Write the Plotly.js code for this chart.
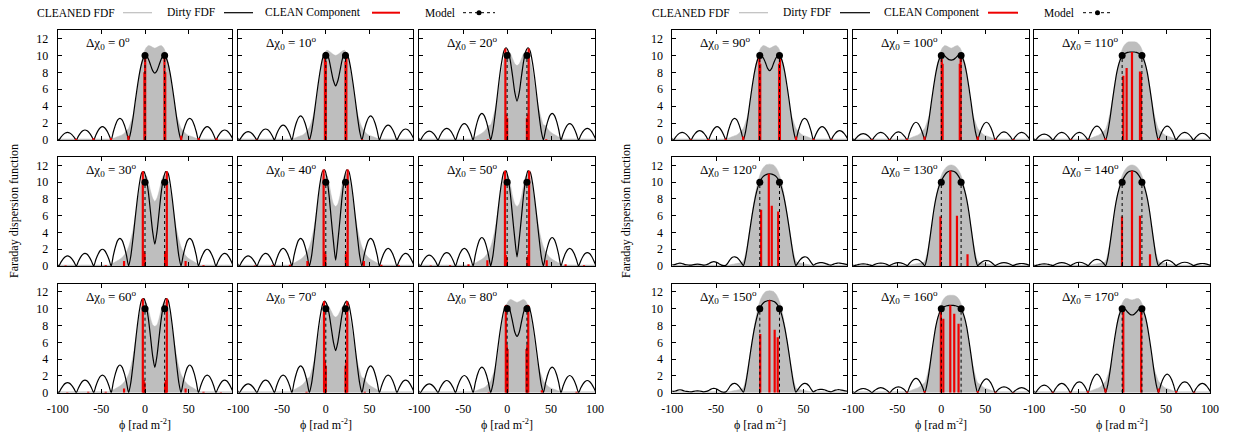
<!DOCTYPE html>
<html><head><meta charset="utf-8">
<script src="https://cdn.plot.ly/plotly-3.0.1.min.js"></script>
<style>body{margin:0;background:#fff}#chart{width:1238px;height:438px}</style>
</head><body><div id="chart"></div>
<script>
// Faraday depth grid (rad m^-2)
const phi = [-101.25,-98.75,-96.25,-93.75,-91.25,-88.75,-86.25,-83.75,-81.25,-78.75,-76.25,-73.75,-71.25,-68.75,-66.25,-63.75,-61.25,-58.75,-56.25,-53.75,-51.25,-48.75,-46.25,-43.75,-41.25,-38.75,-36.25,-33.75,-31.25,-28.75,-26.25,-23.75,-21.25,-18.75,-16.25,-13.75,-11.25,-8.75,-6.25,-3.75,-1.25,1.25,3.75,6.25,8.75,11.25,13.75,16.25,18.75,21.25,23.75,26.25,28.75,31.25,33.75,36.25,38.75,41.25,43.75,46.25,48.75,51.25,53.75,56.25,58.75,61.25,63.75,66.25,68.75,71.25,73.75,76.25,78.75,81.25,83.75,86.25,88.75,91.25,93.75,96.25,98.75,101.25];

const angles = [0,10,20,30,40,50,60,70,80,90,100,110,120,130,140,150,160,170];

// Dirty FDF
const dirty0 = [0.3,0, 0.34,0.64,0.83,0.9,0.83,0.64,0.34,0, 0.45,0.83,1.09,1.18,1.09,0.83,0.45,0, 0.60,1.11,1.45,1.57,1.45,1.11,0.60,0, 0.98,1.81,2.37,2.56,2.37,1.81,0.98,0, 1.0,2.6,4.5,6.3,7.9,9.1,9.8,10.0,9.6,8.9,8.2,7.9, 8.2,8.9,9.6,10.0,9.8,9.1,7.9,6.3,4.5,2.6,1.0,0, 0.98,1.81,2.37,2.56,2.37,1.81,0.98,0, 0.60,1.11,1.45,1.57,1.45,1.11,0.60,0, 0.45,0.83,1.09,1.18,1.09,0.83,0.45,0];
const dirty10 = [0.3,0, 0.38,0.71,0.92,1.0,0.92,0.71,0.38,0, 0.50,0.92,1.20,1.3,1.20,0.92,0.50,0, 0.67,1.24,1.62,1.75,1.62,1.24,0.67,0, 1.09,2.01,2.63,2.85,2.63,2.01,1.09,0, 1.0,2.7,4.7,6.6,8.3,9.6,10.3,10.3,9.5,8.2,7.0,6.4, 7.0,8.2,9.5,10.3,10.3,9.6,8.3,6.6,4.7,2.7,1.0,0, 1.09,2.01,2.63,2.85,2.63,2.01,1.09,0, 0.67,1.24,1.62,1.75,1.62,1.24,0.67,0, 0.50,0.92,1.20,1.3,1.20,0.92,0.50,0];
const dirty20 = [0.3,0, 0.41,0.75,0.98,1.06,0.98,0.75,0.41,0, 0.53,0.98,1.28,1.38,1.28,0.98,0.53,0, 0.74,1.36,1.78,1.93,1.78,1.36,0.74,0, 1.21,2.23,2.91,3.15,2.91,2.23,1.21,0, 1.1,3.0,5.2,7.4,9.2,10.5,10.9,10.5,9.3,7.5,5.6,4.6, 5.6,7.5,9.3,10.5,10.9,10.5,9.2,7.4,5.2,3.0,1.1,0, 1.21,2.23,2.91,3.15,2.91,2.23,1.21,0, 0.74,1.36,1.78,1.93,1.78,1.36,0.74,0, 0.53,0.98,1.28,1.38,1.28,0.98,0.53,0];
const dirty30 = [0.35,0, 0.46,0.85,1.11,1.2,1.11,0.85,0.46,0, 0.57,1.06,1.39,1.5,1.39,1.06,0.57,0, 0.77,1.41,1.85,2.0,1.85,1.41,0.77,0, 1.26,2.33,3.05,3.3,3.05,2.33,1.26,0, 1.2,3.3,5.7,8.0,9.9,11.1,11.25,10.5,8.9,6.5,4.1,2.6, 4.1,6.5,8.9,10.5,11.25,11.1,9.9,8.0,5.7,3.3,1.2,0, 1.26,2.33,3.05,3.3,3.05,2.33,1.26,0, 0.77,1.41,1.85,2.0,1.85,1.41,0.77,0, 0.57,1.06,1.39,1.5,1.39,1.06,0.57,0];
const dirty40 = [0.35,0, 0.46,0.85,1.11,1.2,1.11,0.85,0.46,0, 0.57,1.06,1.39,1.5,1.39,1.06,0.57,0, 0.80,1.48,1.94,2.1,1.94,1.48,0.80,0, 1.26,2.33,3.05,3.3,3.05,2.33,1.26,0, 1.2,3.4,5.8,8.2,10.1,11.3,11.45,10.5,8.4,5.6,2.9,0.7, 2.9,5.6,8.4,10.5,11.45,11.3,10.1,8.2,5.8,3.4,1.2,0, 1.26,2.33,3.05,3.3,3.05,2.33,1.26,0, 0.80,1.48,1.94,2.1,1.94,1.48,0.80,0, 0.57,1.06,1.39,1.5,1.39,1.06,0.57,0];
const dirty50 = [0.35,0, 0.50,0.92,1.20,1.3,1.20,0.92,0.50,0, 0.61,1.13,1.48,1.6,1.48,1.13,0.61,0, 0.80,1.48,1.94,2.1,1.94,1.48,0.80,0, 1.30,2.40,3.14,3.4,3.14,2.40,1.30,0, 1.2,3.4,5.8,8.1,10.0,11.2,11.35,10.4,8.5,5.8,3.2,1.1, 3.2,5.8,8.5,10.4,11.35,11.2,10.0,8.1,5.8,3.4,1.2,0, 1.30,2.40,3.14,3.4,3.14,2.40,1.30,0, 0.80,1.48,1.94,2.1,1.94,1.48,0.80,0, 0.61,1.13,1.48,1.6,1.48,1.13,0.61,0];
const dirty60 = [0.35,0, 0.46,0.85,1.11,1.2,1.11,0.85,0.46,0, 0.57,1.06,1.39,1.5,1.39,1.06,0.57,0, 0.80,1.48,1.94,2.1,1.94,1.48,0.80,0, 1.26,2.33,3.05,3.3,3.05,2.33,1.26,0, 1.2,3.3,5.7,8.0,9.9,11.05,11.2,10.5,8.9,6.7,4.4,3.0, 4.4,6.7,8.9,10.5,11.2,11.05,9.9,8.0,5.7,3.3,1.2,0, 1.26,2.33,3.05,3.3,3.05,2.33,1.26,0, 0.80,1.48,1.94,2.1,1.94,1.48,0.80,0, 0.57,1.06,1.39,1.5,1.39,1.06,0.57,0];
const dirty70 = [0.3,0, 0.40,0.74,0.96,1.04,0.96,0.74,0.40,0, 0.57,1.06,1.39,1.5,1.39,1.06,0.57,0, 0.80,1.48,1.94,2.1,1.94,1.48,0.80,0, 1.23,2.26,2.96,3.2,2.96,2.26,1.23,0, 1.1,3.0,5.2,7.4,9.2,10.5,10.9,10.5,9.4,7.7,6.0,5.0, 6.0,7.7,9.4,10.5,10.9,10.5,9.2,7.4,5.2,3.0,1.1,0, 1.23,2.26,2.96,3.2,2.96,2.26,1.23,0, 0.80,1.48,1.94,2.1,1.94,1.48,0.80,0, 0.57,1.06,1.39,1.5,1.39,1.06,0.57,0];
const dirty80 = [0.3,0, 0.40,0.74,0.96,1.04,0.96,0.74,0.40,0, 0.56,1.03,1.34,1.45,1.34,1.03,0.56,0, 0.79,1.45,1.89,2.05,1.89,1.45,0.79,0, 1.17,2.16,2.82,3.05,2.82,2.16,1.17,0, 1.0,2.8,4.8,6.8,8.5,9.8,10.4,10.3,9.6,8.4,7.2,6.7, 7.2,8.4,9.6,10.3,10.4,9.8,8.5,6.8,4.8,2.8,1.0,0, 1.17,2.16,2.82,3.05,2.82,2.16,1.17,0, 0.79,1.45,1.89,2.05,1.89,1.45,0.79,0, 0.56,1.03,1.34,1.45,1.34,1.03,0.56,0];
const dirty90 = [0.3,0, 0.34,0.64,0.83,0.9,0.83,0.64,0.34,0, 0.42,0.78,1.02,1.1,1.02,0.78,0.42,0, 0.60,1.11,1.45,1.57,1.45,1.11,0.60,0, 0.98,1.81,2.37,2.56,2.37,1.81,0.98,0, 1.0,2.6,4.5,6.3,7.9,9.1,9.8,10.0,9.75,9.2,8.5,8.2, 8.5,9.2,9.75,10.0,9.8,9.1,7.9,6.3,4.5,2.6,1.0,0, 0.98,1.81,2.37,2.56,2.37,1.81,0.98,0, 0.60,1.11,1.45,1.57,1.45,1.11,0.60,0, 0.42,0.78,1.02,1.1,1.02,0.78,0.42,0];
const dirty100 = [0.25,0, 0.29,0.53,0.69,0.75,0.69,0.53,0.29,0, 0.34,0.64,0.83,0.9,0.83,0.64,0.34,0, 0.36,0.67,0.88,0.95,0.88,0.67,0.36,0, 0.80,1.48,1.94,2.1,1.94,1.48,0.80,0, 1.0,2.6,4.5,6.3,7.9,9.1,9.8,10.05,9.95,9.7,9.5,9.45, 9.5,9.7,9.95,10.05,9.8,9.1,7.9,6.3,4.5,2.6,1.0,0, 0.80,1.48,1.94,2.1,1.94,1.48,0.80,0, 0.36,0.67,0.88,0.95,0.88,0.67,0.36,0, 0.34,0.64,0.83,0.9,0.83,0.64,0.34,0];
const dirty110 = [0.25,0, 0.27,0.49,0.65,0.7,0.65,0.49,0.27,0, 0.34,0.64,0.83,0.9,0.83,0.64,0.34,0, 0.34,0.64,0.83,0.9,0.83,0.64,0.34,0, 0.63,1.17,1.52,1.65,1.52,1.17,0.63,0, 1.0,2.6,4.5,6.3,7.9,9.0,9.7,10.05,10.25,10.35,10.4,10.4, 10.4,10.35,10.25,10.05,9.7,9.0,7.9,6.3,4.5,2.6,1.0,0, 0.63,1.17,1.52,1.65,1.52,1.17,0.63,0, 0.34,0.64,0.83,0.9,0.83,0.64,0.34,0, 0.31,0.57,0.74,0.8,0.74,0.57,0.31,0];
const dirty120 = [0.2,0.15, 0.2,0.3,0.35,0.3,0.2,0.15,0.12,0.1, 0.15,0.2,0.22,0.2,0.15,0.1,0.15,0.25, 0.4,0.5,0.5,0.4,0.25,0.1,0.05,0.1, 0.4,0.8,1.05,1.1,1.0,0.75,0.4,0.05, 1.0,2.6,4.4,6.1,7.6,8.8,9.7,10.3,10.65,10.85,10.95,11.0, 10.95,10.85,10.65,10.3,9.7,8.8,7.6,6.1,4.4,2.6,1.0,0.05, 0.4,0.75,1.0,1.1,1.05,0.8,0.4,0.1, 0.25,0.35,0.4,0.4,0.35,0.25,0.15,0.1, 0.2,0.3,0.35,0.35,0.3,0.25,0.2,0.15];
const dirty130 = [0.15,0.05, 0.12,0.2,0.24,0.25,0.24,0.2,0.12,0.05, 0.16,0.27,0.33,0.35,0.33,0.27,0.16,0.05, 0.18,0.3,0.38,0.4,0.38,0.3,0.18,0.05, 0.33,0.58,0.75,0.8,0.75,0.58,0.33,0.05, 1.0,2.7,4.6,6.5,8.0,9.1,9.9,10.4,10.85,11.15,11.3,11.35, 11.3,11.15,10.85,10.4,9.9,9.1,8.0,6.5,4.6,2.7,1.0,0.05, 0.27,0.48,0.62,0.65,0.62,0.48,0.27,0.05, 0.18,0.3,0.38,0.4,0.38,0.3,0.18,0.05, 0.14,0.22,0.28,0.3,0.28,0.22,0.14,0.05];
const dirty140 = [0.15,0.05, 0.12,0.2,0.24,0.25,0.24,0.2,0.12,0.05, 0.18,0.3,0.38,0.4,0.38,0.3,0.18,0.05, 0.2,0.33,0.42,0.45,0.42,0.33,0.2,0.05, 0.33,0.58,0.75,0.8,0.75,0.58,0.33,0.05, 1.0,2.7,4.6,6.5,8.0,9.1,9.9,10.4,10.85,11.15,11.3,11.35, 11.3,11.15,10.85,10.4,9.9,9.1,8.0,6.5,4.6,2.7,1.0,0.05, 0.29,0.51,0.66,0.7,0.66,0.51,0.29,0.05, 0.2,0.33,0.42,0.45,0.42,0.33,0.2,0.05, 0.14,0.22,0.28,0.3,0.28,0.22,0.14,0.05];
const dirty150 = [0.2,0.15, 0.2,0.3,0.35,0.3,0.2,0.15,0.12,0.1, 0.15,0.2,0.22,0.2,0.15,0.1,0.15,0.25, 0.4,0.5,0.5,0.4,0.25,0.1,0.05,0.1, 0.4,0.8,1.05,1.1,1.0,0.75,0.4,0.05, 1.0,2.6,4.4,6.1,7.6,8.8,9.7,10.3,10.65,10.85,10.95,11.0, 10.95,10.85,10.65,10.3,9.7,8.8,7.6,6.1,4.4,2.6,1.0,0.05, 0.4,0.75,1.0,1.1,1.05,0.8,0.4,0.1, 0.25,0.35,0.4,0.4,0.35,0.25,0.15,0.1, 0.2,0.3,0.35,0.35,0.3,0.25,0.2,0.15];
const dirty160 = [0.2,0, 0.19,0.35,0.46,0.5,0.46,0.35,0.19,0, 0.23,0.42,0.55,0.6,0.55,0.42,0.23,0, 0.27,0.49,0.65,0.7,0.65,0.49,0.27,0, 0.65,1.20,1.57,1.7,1.57,1.20,0.65,0, 1.0,2.6,4.5,6.3,7.9,9.0,9.7,10.05,10.25,10.35,10.4,10.4, 10.4,10.35,10.25,10.05,9.7,9.0,7.9,6.3,4.5,2.6,1.0,0, 0.63,1.17,1.52,1.65,1.52,1.17,0.63,0, 0.27,0.49,0.65,0.7,0.65,0.49,0.27,0, 0.23,0.42,0.55,0.6,0.55,0.42,0.23,0];
const dirty170 = [0.3,0, 0.34,0.64,0.83,0.9,0.83,0.64,0.34,0, 0.42,0.78,1.02,1.1,1.02,0.78,0.42,0, 0.50,0.92,1.20,1.3,1.20,0.92,0.50,0, 0.84,1.56,2.03,2.2,2.03,1.56,0.84,0, 1.0,2.6,4.5,6.3,7.9,9.1,9.8,10.05,9.9,9.6,9.35,9.25, 9.35,9.6,9.9,10.05,9.8,9.1,7.9,6.3,4.5,2.6,1.0,0, 0.84,1.56,2.03,2.2,2.03,1.56,0.84,0, 0.50,0.92,1.20,1.3,1.20,0.92,0.50,0, 0.42,0.78,1.02,1.1,1.02,0.78,0.42,0];

// CLEANED FDF
const cleaned0 = [0.12,0.12,0.12,0.12,0.12,0.12,0.12,0.12,0.12,0.12,0.12,0.12,0.12,0.12,0.12,0.12,0.12,0.12,0.12,0.12,0.12,0.12,0.12,0.12,0.12, 0.15,0.2,0.3,0.4,0.5,0.6,0.8,1.1, 1.4,2.1,2.9,4.1,5.9,7.8,9.3,10.3,10.9,11.15,11.1,10.95,10.85, 10.95,11.1,11.15,10.9,10.3,9.3,7.8,5.9,4.1,2.9,2.1,1.4, 1.1,0.8,0.6,0.5,0.4,0.3,0.2,0.15, 0.12,0.12,0.12,0.12,0.12,0.12,0.12,0.12,0.12,0.12,0.12,0.12,0.12,0.12,0.12,0.12];
const cleaned10 = [0.12,0.12,0.12,0.12,0.12,0.12,0.12,0.12,0.12,0.12,0.12,0.12,0.12,0.12,0.12,0.12,0.12,0.12,0.12,0.12,0.12,0.12,0.12,0.12,0.12, 0.15,0.2,0.3,0.4,0.5,0.6,0.8,1.1, 1.5,2.2,3.1,4.4,6.2,8.0,9.4,10.3,10.6,10.5,10.3,10.1,10.0, 10.1,10.3,10.5,10.6,10.3,9.4,8.0,6.2,4.4,3.1,2.2,1.5, 1.1,0.8,0.6,0.5,0.4,0.3,0.2,0.15, 0.12,0.12,0.12,0.12,0.12,0.12,0.12,0.12,0.12,0.12,0.12,0.12,0.12,0.12,0.12,0.12];
const cleaned20 = [0.12,0.12,0.12,0.12,0.12,0.12,0.12,0.12,0.12,0.12,0.12,0.12,0.12,0.12,0.12,0.12,0.12,0.12,0.12,0.12,0.12,0.12,0.12,0.12,0.12, 0.25,0.35,0.5,0.65,0.8,1.0,1.3,1.7, 1.8,2.6,3.6,4.9,6.5,8.2,9.5,10.3,10.5,10.2,9.6,9.0,8.8, 9.0,9.6,10.2,10.5,10.3,9.5,8.2,6.5,4.9,3.6,2.6,1.8, 1.7,1.3,1.0,0.8,0.65,0.5,0.35,0.25, 0.12,0.12,0.12,0.12,0.12,0.12,0.12,0.12,0.12,0.12,0.12,0.12,0.12,0.12,0.12,0.12];
const cleaned30 = [0.12,0.12,0.12,0.12,0.12,0.12,0.12,0.12,0.12,0.12,0.12,0.12,0.12,0.12,0.12,0.12,0.12,0.12,0.12,0.12,0.12,0.12,0.12,0.12,0.12, 0.25,0.35,0.5,0.65,0.8,1.0,1.3,1.7, 2.3,3.2,4.3,5.9,7.6,9.1,10.3,10.8,10.8,10.1,9.0,8.1,7.7, 8.1,9.0,10.1,10.8,10.8,10.3,9.1,7.6,5.9,4.3,3.2,2.3, 1.7,1.3,1.0,0.8,0.65,0.5,0.35,0.25, 0.12,0.12,0.12,0.12,0.12,0.12,0.12,0.12,0.12,0.12,0.12,0.12,0.12,0.12,0.12,0.12];
const cleaned40 = [0.12,0.12,0.12,0.12,0.12,0.12,0.12,0.12,0.12,0.12,0.12,0.12,0.12,0.12,0.12,0.12,0.12,0.12,0.12,0.12,0.12,0.12,0.12,0.12,0.12, 0.25,0.35,0.5,0.65,0.8,1.0,1.3,1.7, 2.3,3.2,4.4,6.0,7.8,9.4,10.6,11.0,10.8,9.8,8.4,7.4,7.1, 7.4,8.4,9.8,10.8,11.0,10.6,9.4,7.8,6.0,4.4,3.2,2.3, 1.7,1.3,1.0,0.8,0.65,0.5,0.35,0.25, 0.12,0.12,0.12,0.12,0.12,0.12,0.12,0.12,0.12,0.12,0.12,0.12,0.12,0.12,0.12,0.12];
const cleaned50 = [0.12,0.12,0.12,0.12,0.12,0.12,0.12,0.12,0.12,0.12,0.12,0.12,0.12,0.12,0.12,0.12,0.12,0.12,0.12,0.12,0.12,0.12,0.12,0.12,0.12, 0.25,0.35,0.5,0.65,0.8,1.0,1.3,1.7, 2.3,3.2,4.4,6.0,7.8,9.4,10.5,10.9,10.7,9.7,8.3,7.4,7.1, 7.4,8.3,9.7,10.7,10.9,10.5,9.4,7.8,6.0,4.4,3.2,2.3, 1.7,1.3,1.0,0.8,0.65,0.5,0.35,0.25, 0.12,0.12,0.12,0.12,0.12,0.12,0.12,0.12,0.12,0.12,0.12,0.12,0.12,0.12,0.12,0.12];
const cleaned60 = [0.12,0.12,0.12,0.12,0.12,0.12,0.12,0.12,0.12,0.12,0.12,0.12,0.12,0.12,0.12,0.12,0.12,0.12,0.12,0.12,0.12,0.12,0.12,0.12,0.12, 0.25,0.35,0.5,0.65,0.8,1.0,1.3,1.7, 2.2,3.1,4.3,5.9,7.6,9.2,10.3,10.8,10.7,10.0,8.9,8.1,7.9, 8.1,8.9,10.0,10.7,10.8,10.3,9.2,7.6,5.9,4.3,3.1,2.2, 1.7,1.3,1.0,0.8,0.65,0.5,0.35,0.25, 0.12,0.12,0.12,0.12,0.12,0.12,0.12,0.12,0.12,0.12,0.12,0.12,0.12,0.12,0.12,0.12];
const cleaned70 = [0.12,0.12,0.12,0.12,0.12,0.12,0.12,0.12,0.12,0.12,0.12,0.12,0.12,0.12,0.12,0.12,0.12,0.12,0.12,0.12,0.12,0.12,0.12,0.12,0.12, 0.25,0.35,0.5,0.65,0.8,1.0,1.3,1.7, 1.8,2.6,3.6,4.9,6.5,8.2,9.5,10.3,10.5,10.2,9.7,9.2,9.0, 9.2,9.7,10.2,10.5,10.3,9.5,8.2,6.5,4.9,3.6,2.6,1.8, 1.7,1.3,1.0,0.8,0.65,0.5,0.35,0.25, 0.12,0.12,0.12,0.12,0.12,0.12,0.12,0.12,0.12,0.12,0.12,0.12,0.12,0.12,0.12,0.12];
const cleaned80 = [0.12,0.12,0.12,0.12,0.12,0.12,0.12,0.12,0.12,0.12,0.12,0.12,0.12,0.12,0.12,0.12,0.12,0.12,0.12,0.12,0.12,0.12,0.12,0.12,0.12, 0.15,0.2,0.3,0.4,0.5,0.6,0.8,1.1, 1.4,2.1,2.9,4.1,5.9,7.8,9.3,10.3,10.9,11.1,11.0,10.85,10.75, 10.85,11.0,11.1,10.9,10.3,9.3,7.8,5.9,4.1,2.9,2.1,1.4, 1.1,0.8,0.6,0.5,0.4,0.3,0.2,0.15, 0.12,0.12,0.12,0.12,0.12,0.12,0.12,0.12,0.12,0.12,0.12,0.12,0.12,0.12,0.12,0.12];
const cleaned90 = cleaned0;
const cleaned100 = [0.12,0.12,0.12,0.12,0.12,0.12,0.12,0.12,0.12,0.12,0.12,0.12,0.12,0.12,0.12,0.12,0.12,0.12,0.12,0.12,0.12,0.12,0.12,0.12,0.12, 0.15,0.2,0.3,0.4,0.5,0.6,0.8,1.1, 1.4,2.1,2.9,4.1,5.9,7.8,9.3,10.3,10.9,11.15,11.1,10.95,10.85, 10.95,11.1,11.15,10.9,10.3,9.3,7.8,5.9,4.1,2.9,2.1,1.4, 1.1,0.8,0.6,0.5,0.4,0.3,0.2,0.15, 0.12,0.12,0.12,0.12,0.12,0.12,0.12,0.12,0.12,0.12,0.12,0.12,0.12,0.12,0.12,0.12];
const cleaned110 = [0.12,0.12,0.12,0.12,0.12,0.12,0.12,0.12,0.12,0.12,0.12,0.12,0.12,0.12,0.12,0.12,0.12,0.12,0.12,0.12,0.12,0.12,0.12,0.12,0.12, 0.15,0.2,0.3,0.4,0.5,0.6,0.8,1.0, 1.3,2.1,3.2,4.6,6.2,7.8,9.2,10.3,11.0,11.35,11.55,11.6,11.6, 11.6,11.55,11.35,11.0,10.3,9.2,7.8,6.2,4.6,3.2,2.1,1.3, 1.0,0.8,0.6,0.5,0.4,0.3,0.2,0.15, 0.12,0.12,0.12,0.12,0.12,0.12,0.12,0.12,0.12,0.12,0.12,0.12,0.12,0.12,0.12,0.12];
const cleaned120 = [0.12,0.12,0.12,0.12,0.12,0.12,0.12,0.12,0.12,0.12,0.12,0.12,0.12,0.12,0.12,0.12,0.12,0.12,0.12,0.12,0.12,0.12,0.12,0.12,0.12, 0.12,0.12,0.15,0.2,0.25,0.3,0.35,0.4, 0.6,1.5,2.9,4.5,6.2,7.9,9.3,10.4,11.2,11.7,12.0,12.1,12.15, 12.1,12.0,11.7,11.2,10.4,9.3,7.9,6.2,4.5,2.9,1.5,0.6, 0.4,0.35,0.3,0.25,0.2,0.15,0.12,0.12, 0.12,0.12,0.12,0.12,0.12,0.12,0.12,0.12,0.12,0.12,0.12,0.12,0.12,0.12,0.12,0.12];
const cleaned130 = [0.12,0.12,0.12,0.12,0.12,0.12,0.12,0.12,0.12,0.12,0.12,0.12,0.12,0.12,0.12,0.12,0.12,0.12,0.12,0.12,0.12,0.12,0.12,0.12,0.12, 0.12,0.12,0.15,0.2,0.25,0.3,0.35,0.4, 0.6,1.5,2.9,4.6,6.4,8.0,9.4,10.4,11.1,11.55,11.85,12.0,12.05, 12.0,11.85,11.55,11.1,10.4,9.4,8.0,6.4,4.6,2.9,1.5,0.6, 0.4,0.35,0.3,0.25,0.2,0.15,0.12,0.12, 0.12,0.12,0.12,0.12,0.12,0.12,0.12,0.12,0.12,0.12,0.12,0.12,0.12,0.12,0.12,0.12];
const cleaned140 = cleaned130;
const cleaned150 = cleaned120;
const cleaned160 = [0.12,0.12,0.12,0.12,0.12,0.12,0.12,0.12,0.12,0.12,0.12,0.12,0.12,0.12,0.12,0.12,0.12,0.12,0.12,0.12,0.12,0.12,0.12,0.12,0.12, 0.15,0.2,0.3,0.4,0.5,0.6,0.8,1.0, 1.2,2.0,3.1,4.5,6.1,7.7,9.1,10.2,10.9,11.3,11.5,11.6,11.6, 11.6,11.5,11.3,10.9,10.2,9.1,7.7,6.1,4.5,3.1,2.0,1.2, 1.0,0.8,0.6,0.5,0.4,0.3,0.2,0.15, 0.12,0.12,0.12,0.12,0.12,0.12,0.12,0.12,0.12,0.12,0.12,0.12,0.12,0.12,0.12,0.12];
const cleaned170 = [0.12,0.12,0.12,0.12,0.12,0.12,0.12,0.12,0.12,0.12,0.12,0.12,0.12,0.12,0.12,0.12,0.12,0.12,0.12,0.12,0.12,0.12,0.12,0.12,0.12, 0.15,0.2,0.3,0.4,0.5,0.6,0.8,1.1, 1.4,2.1,2.9,4.1,5.9,7.8,9.3,10.3,10.9,11.2,11.2,11.1,11.05, 11.1,11.2,11.2,10.9,10.3,9.3,7.8,5.9,4.1,2.9,2.1,1.4, 1.1,0.8,0.6,0.5,0.4,0.3,0.2,0.15, 0.12,0.12,0.12,0.12,0.12,0.12,0.12,0.12,0.12,0.12,0.12,0.12,0.12,0.12,0.12,0.12];

// CLEAN components (position, amplitude)
const compX0 = [-79,-59,-39,-19,-0.7,0.2,22.3,23.2,41.5,61.5,82];
const compY0 = [0.15,0.2,0.25,0.5,8.0,9.9,9.9,8.0,0.5,0.25,0.2];
const compX10 = [-79,-19,-1,0,22.5,23.5,41.5];
const compY10 = [0.05,0.1,10.2,9.3,9.3,10.2,0.1];
const compX20 = [-22,-2,-1,0,22.5,23.5,24.5,44.5];
const compY20 = [0.1,10.8,3.0,2.6,2.6,3.0,10.8,0.1];
const compX30 = [-91,-45,-24,-2.5,-1.5,-0.5,23,24,25,46.5,67];
const compY30 = [0.05,0.1,0.6,11.3,1.8,1.5,1.5,1.8,11.3,0.6,0.1];
const compX40 = [-81,-61,-41,-21,-2.5,-1.5,-0.5,23,24,25,43.5,63.5,83.5];
const compY40 = [0.05,0.1,0.15,0.6,11.5,1.7,1.4,1.4,1.7,11.5,0.6,0.15,0.1];
const compX50 = [-87,-65,-44,-22.5,-2.5,-1.5,-0.5,23,24,25,45,66.5,87.5];
const compY50 = [0.05,0.1,0.2,0.7,11.35,1.3,1.0,1.0,1.3,11.35,0.7,0.2,0.1];
const compX60 = [-89,-65,-45,-24,-2.5,-1.5,-0.5,23,24,25,46.5,67,87];
const compY60 = [0.05,0.1,0.1,0.5,11.2,1.5,1.2,1.2,1.5,11.2,0.5,0.1,0.05];
const compX70 = [-22,-2,-1,0,22.5,23.5,24.5,44.5];
const compY70 = [0.1,10.9,3.7,3.2,3.2,3.7,10.9,0.1];
const compX80 = [-21,-1.5,-0.5,0.5,22,23,24,39.5,79];
const compY80 = [0.05,10.4,5.7,5.2,5.2,5.7,10.4,0.3,0.1];
const compX90 = [-79,-59,-39,-19,-0.5,0.5,22,23,41.5,61.5,82];
const compY90 = [0.1,0.12,0.15,0.4,10.0,9.0,9.0,10.0,0.4,0.15,0.1];
const compX100 = [-79,-59,-39,-19,0.5,1.5,21,22,41.5,61.5,82];
const compY100 = [0.1,0.1,0.15,0.4,9.6,9.0,9.0,9.8,0.4,0.15,0.1];
const compX110 = [-58,-38,-19,1.3,5.1,11.2,20.3,21.5,41.5];
const compY110 = [0.1,0.1,0.2,7.6,8.5,10.4,8.1,7.9,0.2];
const compX120 = [1.5,10.3,13.7,21];
const compY120 = [6.7,11.0,7.2,6.5];
const compX130 = [-1,10.2,17.8,29.8];
const compY130 = [5.9,11.35,6.0,1.4];
const compX140 = [-0.2,11.2,20.3,31.7];
const compY140 = [5.9,11.35,6.0,1.4];
const compX150 = [0.5,11,17,20.5];
const compY150 = [7.0,11.0,7.5,6.6];
const compX160 = [-59,-39,-19,-0.5,2.3,10.2,14.7,19.6,41.5,61.5,82];
const compY160 = [0.05,0.1,0.2,9.9,8.8,10.4,9.4,8.2,0.2,0.1,0.05];
const compX170 = [-79,-59,-39,-19,1.3,21.6,41.5,61.5,82];
const compY170 = [0.1,0.12,0.2,0.5,9.75,9.75,0.5,0.2,0.1];

// Model sources
const modelX = [0, 22.5];
const modelY = [10, 10];

const xTickVals = [-100,-50,0,50,100];
const xTickText = ['-100','-50','0','50','100'];
const yTickVals = [0,2,4,6,8,10,12];
const yTickText = ['0','2','4','6','8','10','12'];

const dirtyAll = [dirty0,dirty10,dirty20,dirty30,dirty40,dirty50,dirty60,dirty70,dirty80,dirty90,dirty100,dirty110,dirty120,dirty130,dirty140,dirty150,dirty160,dirty170];
const cleanedAll = [cleaned0,cleaned10,cleaned20,cleaned30,cleaned40,cleaned50,cleaned60,cleaned70,cleaned80,cleaned90,cleaned100,cleaned110,cleaned120,cleaned130,cleaned140,cleaned150,cleaned160,cleaned170];
const compXAll = [compX0,compX10,compX20,compX30,compX40,compX50,compX60,compX70,compX80,compX90,compX100,compX110,compX120,compX130,compX140,compX150,compX160,compX170];
const compYAll = [compY0,compY10,compY20,compY30,compY40,compY50,compY60,compY70,compY80,compY90,compY100,compY110,compY120,compY130,compY140,compY150,compY160,compY170];

const W = 1238, H = 438;
const FONT = 'Liberation Serif, Times New Roman, serif';
const colPx = [[57.7,232.3],[238.3,413.3],[419.3,595],[672.3,847.3],[853.3,1029.3],[1034.3,1210]];
const rowPx = [[30,140],[157,266],[283.5,392.7]];

const traces = [];
const layout = {
  width: W, height: H, margin: {l:0,r:0,t:0,b:0},
  paper_bgcolor: '#fff', plot_bgcolor: '#fff',
  showlegend: false, hovermode: false,
  font: {family: FONT, size: 12, color: '#000'},
  annotations: [], shapes: []
};

for (let i = 0; i < 18; i++) {
  const grid = i < 9 ? 0 : 1;
  const j = i % 9;
  const r = Math.floor(j / 3);
  const c = grid * 3 + (j % 3);
  const sfx = i === 0 ? '' : String(i + 1);
  const xa = 'x' + sfx, ya = 'y' + sfx;
  const lastCol = (c === 2 || c === 5);
  const nx = lastCol ? 5 : 4;
  layout['xaxis' + sfx] = {
    domain: [colPx[c][0] / W, colPx[c][1] / W], anchor: ya,
    range: [-100, 100], showgrid: false, zeroline: false,
    showline: true, linecolor: '#000', linewidth: 1, mirror: 'ticks',
    ticks: 'inside', ticklen: 4, tickcolor: '#000', tickwidth: 1,
    tickmode: 'array', tickvals: xTickVals.slice(0, nx), ticktext: xTickText.slice(0, nx),
    showticklabels: r === 2, ticklabelstandoff: 5,
    tickfont: {family: FONT, size: 12, color: '#000'}
  };
  layout['yaxis' + sfx] = {
    domain: [1 - rowPx[r][1] / H, 1 - rowPx[r][0] / H], anchor: xa,
    range: [0, 13], showgrid: false, zeroline: false,
    showline: true, linecolor: '#000', linewidth: 1, mirror: 'ticks',
    ticks: 'inside', ticklen: 4, tickcolor: '#000', tickwidth: 1,
    tickmode: 'array', tickvals: yTickVals, ticktext: yTickText,
    showticklabels: (c === 0 || c === 3), ticklabelstandoff: 6,
    tickfont: {family: FONT, size: 12, color: '#000'}
  };

  traces.push({x: phi, y: cleanedAll[i], xaxis: xa, yaxis: ya, mode: 'lines',
    line: {color: '#bebebe', width: 0.5, shape: 'spline', smoothing: 0.7},
    fill: 'tozeroy', fillcolor: '#bebebe'});
  traces.push({x: phi, y: dirtyAll[i], xaxis: xa, yaxis: ya, mode: 'lines',
    line: {color: '#000', width: 1.2, shape: 'spline', smoothing: 0.7}});
  const cx = [], cy = [];
  compXAll[i].forEach((v, k) => { cx.push(v, v, null); cy.push(0, compYAll[i][k], null); });
  traces.push({x: cx, y: cy, xaxis: xa, yaxis: ya, mode: 'lines',
    line: {color: '#ee0000', width: 2.2}});
  const mx = [], my = [];
  modelX.forEach((v, k) => { mx.push(v, v, null); my.push(0, modelY[k], null); });
  traces.push({x: mx, y: my, xaxis: xa, yaxis: ya, mode: 'lines',
    line: {color: '#000', width: 1, dash: 'dot'}});
  traces.push({x: modelX, y: modelY, xaxis: xa, yaxis: ya, mode: 'markers',
    marker: {color: '#000', size: 7}});

  layout.annotations.push({
    xref: 'paper', yref: 'paper', x: (colPx[c][0] + 26) / W, y: 1 - (rowPx[r][0] + 13) / H,
    xanchor: 'left', yanchor: 'middle', showarrow: false,
    text: 'Δχ<sub>0</sub> = ' + angles[i] + '<sup>o</sup>',
    font: {family: FONT, size: 13, color: '#000'}
  });
  if (r === 2) {
    layout.annotations.push({
      xref: 'paper', yref: 'paper', x: (colPx[c][0] + colPx[c][1]) / 2 / W, y: 1 - 424 / H,
      xanchor: 'center', yanchor: 'middle', showarrow: false,
      text: 'ϕ [rad m<sup>-2</sup>]', font: {family: FONT, size: 12, color: '#000'}
    });
  }
}

// y-axis titles
[14, 626].forEach(px => {
  layout.annotations.push({
    xref: 'paper', yref: 'paper', x: px / W, y: 1 - 211 / H, xanchor: 'center', yanchor: 'middle',
    showarrow: false, textangle: -90, text: 'Faraday dispersion function',
    font: {family: FONT, size: 12, color: '#000'}
  });
});

// legends (text left of sample)
const legendSets = [
  {texts: [117, 217, 363, 457], lines: [[123,152],[224,253],[372,400],[463,495]]},
  {texts: [732, 833, 982, 1076], lines: [[739,768],[840,870],[988,1018],[1083,1112]]}
];
const legendNames = ['CLEANED FDF', 'Dirty FDF', 'CLEAN Component', 'Model'];
const legendStyles = [
  {color: '#bebebe', width: 1.2, dash: 'solid'},
  {color: '#000', width: 1.2, dash: 'solid'},
  {color: '#ee0000', width: 2, dash: 'solid'},
  {color: '#000', width: 1, dash: 'dot'}
];
const ly = 1 - 12.7 / H;
legendSets.forEach(set => {
  legendNames.forEach((name, k) => {
    layout.annotations.push({xref: 'paper', yref: 'paper', x: set.texts[k] / W, y: ly,
      xanchor: 'right', yanchor: 'middle', showarrow: false, text: name,
      font: {family: FONT, size: 11.5, color: '#000'}});
    layout.shapes.push({type: 'line', xref: 'paper', yref: 'paper',
      x0: set.lines[k][0] / W, x1: set.lines[k][1] / W, y0: ly, y1: ly,
      line: legendStyles[k]});
  });
  const cxp = (set.lines[3][0] + set.lines[3][1]) / 2;
  layout.shapes.push({type: 'circle', xref: 'paper', yref: 'paper',
    x0: (cxp - 2.5) / W, x1: (cxp + 2.5) / W, y0: ly - 2.5 / H, y1: ly + 2.5 / H,
    fillcolor: '#000', line: {color: '#000', width: 0}});
});

Plotly.newPlot('chart', traces, layout, {staticPlot: true, displayModeBar: false});
</script>
</body></html>
